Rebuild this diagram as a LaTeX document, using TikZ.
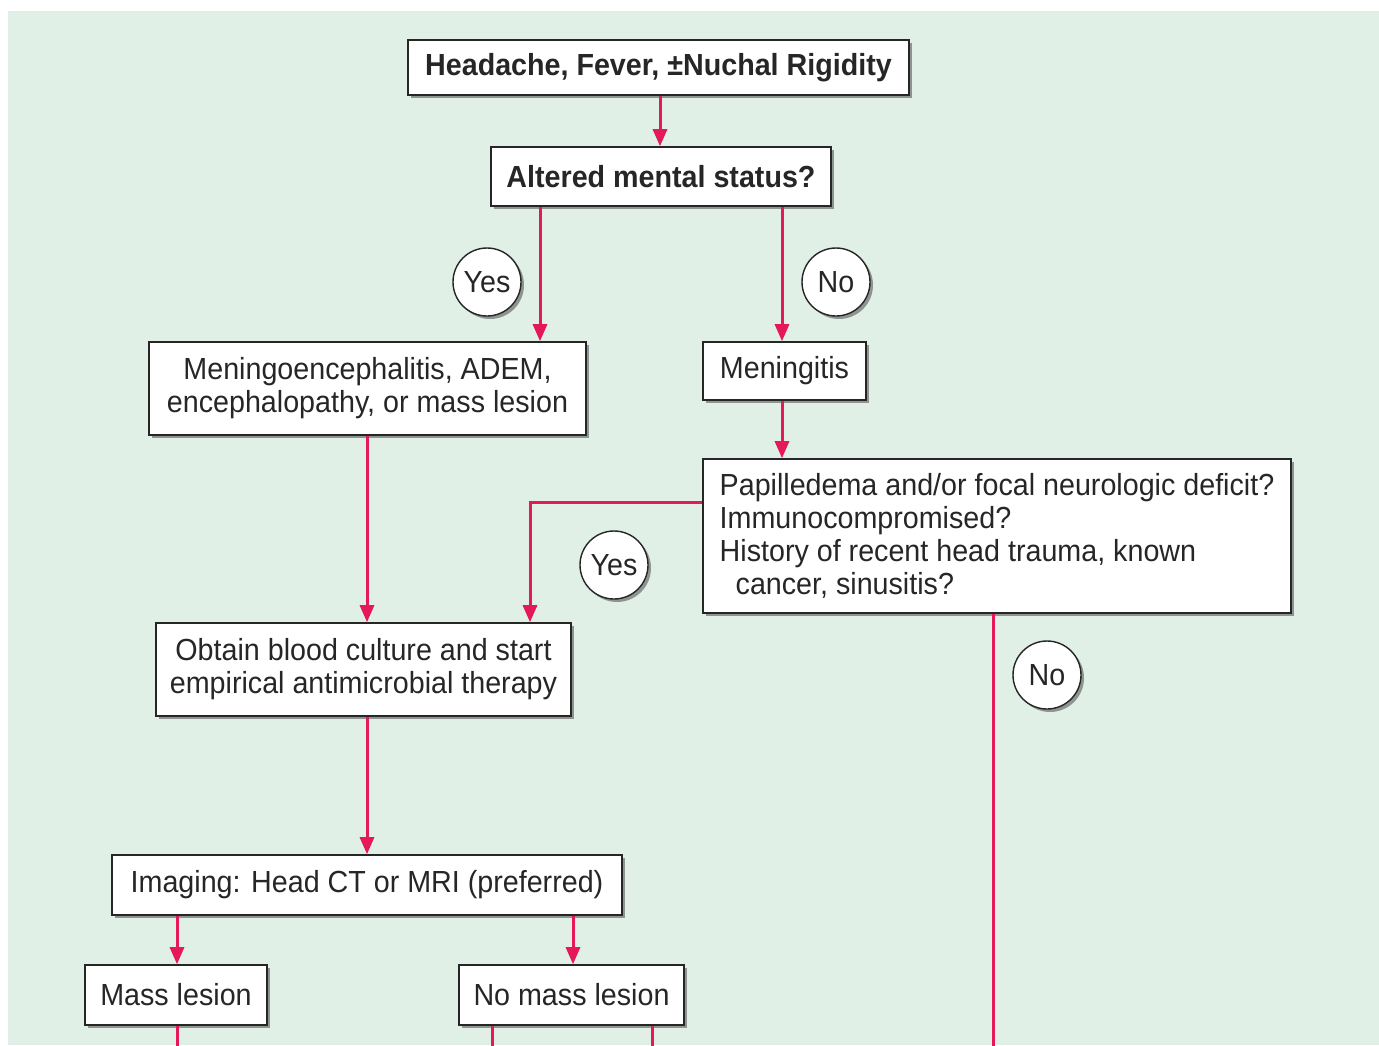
\documentclass[tikz,border=0pt]{standalone}
\usepackage{fontspec}
\setmainfont{Liberation Sans}[FakeStretch=0.94]
\usetikzlibrary{arrows.meta,shadows}
\definecolor{bgc}{HTML}{E0F0E6}
\definecolor{arrc}{HTML}{E5195A}
\definecolor{txt}{HTML}{262626}
\begin{document}
\begin{tikzpicture}[x=1pt,y=-1pt,
  shd/.style={drop shadow={shadow xshift=3pt,shadow yshift=-3pt,fill=black!70,opacity=0.55}},
  box/.style={draw=black!85,line width=1.6pt,fill=white,shd,rectangle,inner sep=0pt,
    text=txt,font=\fontsize{30.5}{33}\selectfont,align=center},
  yn/.style={draw=black!85,line width=1.4pt,fill=white,shd,circle,minimum size=68pt,inner sep=0pt,
    text=txt,font=\fontsize{30.5}{33}\selectfont},
  arr/.style={draw=arrc,line width=3pt,-{Triangle[width=14pt,length=17pt]}},
  ln/.style={draw=arrc,line width=3pt}]
\useasboundingbox (0,0) rectangle (1379,1045);
\fill[bgc] (8,11) rectangle (1379,1045);

\node[box,minimum width=501pt,minimum height=55pt,font=\fontsize{30.5}{33}\selectfont\bfseries] (b1) at (658.5,67.5) {Headache, Fever, ±Nuchal Rigidity};
\node[box,minimum width=340pt,minimum height=59pt,font=\fontsize{30.5}{33}\selectfont\bfseries] (b2) at (661,176.5) {Altered mental status?};
\node[box,minimum width=437pt,minimum height=93pt] (b3) at (367.5,388.5) {Meningoencephalitis, ADEM,\\encephalopathy, or mass lesion};
\node[box,minimum width=163pt,minimum height=58pt] (b4) at (784.5,371) {Meningitis};
\node[box,minimum width=588pt,minimum height=154pt,align=left] (b5) at (997,536) {Papilledema and/or focal neurologic deficit?\\Immunocompromised?\\History of recent head trauma, known\\\hspace*{16pt}cancer, sinusitis?};
\node[box,minimum width=415pt,minimum height=93pt] (b6) at (363.5,669.5) {Obtain blood culture and start\\empirical antimicrobial therapy};
\node[box,minimum width=510pt,minimum height=60pt] (b7) at (367,885) {Imaging: Head CT or MRI (preferred)};
\node[box,minimum width=182pt,minimum height=60pt] (b8) at (176,995) {Mass lesion};
\node[box,minimum width=225pt,minimum height=60pt] (b9) at (571.5,995) {No mass lesion};

\node[yn] (y1) at (487,282) {Yes};
\node[yn] (n1) at (836,282) {No};
\node[yn] (y2) at (614,565) {Yes};
\node[yn] (n2) at (1047,675) {No};

\coordinate (e8) at (177,1046);
\coordinate (e9a) at (492,1046);
\coordinate (e9b) at (652,1046);
\coordinate (e5) at (993,1046);
\coordinate (k5) at (530,502);

\draw[arr] (b1.south -| 660,0) -- (b2.north -| 660,0);
\draw[arr] (b2.south -| 540,0) -- (b3.north -| 540,0);
\draw[arr] (b2.south -| 782,0) -- (b4.north -| 782,0);
\draw[arr] (b4.south -| 782,0) -- (b5.north -| 782,0);
\draw[arr] (b3.south -| 367,0) -- (b6.north -| 367,0);
\draw[arr] (b5.west |- k5) -- (k5) -- (b6.north -| k5);
\draw[arr] (b6.south -| 367,0) -- (b7.north -| 367,0);
\draw[arr] (b7.south -| 177,0) -- (b8.north -| 177,0);
\draw[arr] (b7.south -| 573,0) -- (b9.north -| 573,0);
\draw[ln] (b8.south -| e8) -- (e8);
\draw[ln] (b9.south -| e9a) -- (e9a);
\draw[ln] (b9.south -| e9b) -- (e9b);
\draw[ln] (b5.south -| e5) -- (e5);
\end{tikzpicture}
\end{document}
